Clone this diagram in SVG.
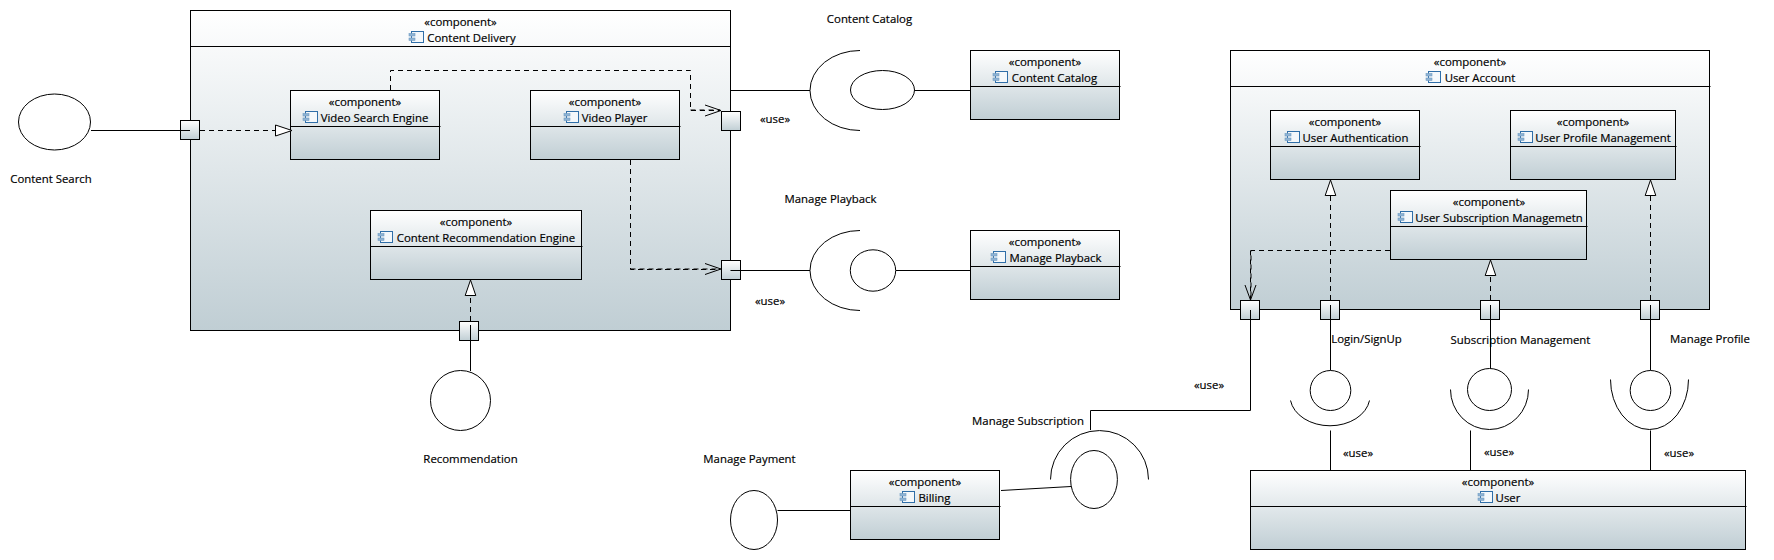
<svg xmlns="http://www.w3.org/2000/svg" width="1774" height="560" viewBox="0 0 1774 560">
<style>
text{font-family:"Open Sans","Noto Sans","Liberation Sans",sans-serif;font-size:11.4px;fill:#000;stroke:#000;stroke-width:.18;text-anchor:middle;dominant-baseline:central}
.box{fill:url(#g);stroke:#000;stroke-width:1}
.hl{stroke:#000;stroke-width:1;fill:none}
.iface{fill:#fff;stroke:#000;stroke-width:1}
.arc{fill:none;stroke:#000;stroke-width:1}
.solid{fill:none;stroke:#000;stroke-width:1}
.dash{fill:none;stroke:#000;stroke-width:1;stroke-dasharray:5 4}
.tri{fill:#fff;stroke:#000;stroke-width:1}
.open{fill:none;stroke:#000;stroke-width:1}
.port{fill:url(#g);stroke:#000;stroke-width:1}
</style>
<defs>
<linearGradient id="g" x1="0" y1="0" x2="0" y2="1"><stop offset="0" stop-color="#ffffff"/><stop offset="1" stop-color="#c0ced4"/></linearGradient>
<g id="ic"><rect x="2.5" y="0.5" width="12" height="11" fill="#f4f8fb" stroke="#2f6ea8" stroke-width="1"/><rect x="0" y="2.5" width="6" height="2.5" fill="#8fb3d3" stroke="#6f9cc4" stroke-width=".6"/><rect x="0" y="7" width="6" height="2.5" fill="#8fb3d3" stroke="#6f9cc4" stroke-width=".6"/></g>
</defs>
<rect width="1774" height="560" fill="#fff"/>

<g id="content-delivery">
<rect class="box" x="190.5" y="10.5" width="540" height="320"/><path class="hl" d="M190.5 46.5H730.5"/>
<text x="460.5" y="21">«component»</text><use href="#ic" x="409" y="31"/><text x="471.5" y="37">Content Delivery</text>
</g>
<g id="video-search-engine">
<rect class="box" x="290.5" y="90.5" width="149" height="69"/><path class="hl" d="M290.5 126.5H440.5"/>
<text x="365" y="101">«component»</text><use href="#ic" x="303" y="111"/><text x="374.5" y="117">Video Search Engine</text>
</g>
<g id="video-player">
<rect class="box" x="530.5" y="90.5" width="149" height="69"/><path class="hl" d="M530.5 126.5H680.5"/>
<text x="605" y="101">«component»</text><use href="#ic" x="564" y="111"/><text x="614.5" y="117">Video Player</text>
</g>
<g id="content-recommendation-engine">
<rect class="box" x="370.5" y="210.5" width="211" height="69"/><path class="hl" d="M370.5 246.5H582.5"/>
<text x="476" y="221">«component»</text><use href="#ic" x="378" y="231"/><text x="486" y="237">Content Recommendation Engine</text>
</g>
<g id="content-catalog">
<rect class="box" x="970.5" y="50.5" width="149" height="69"/><path class="hl" d="M970.5 86.5H1120.5"/>
<text x="1045" y="61">«component»</text><use href="#ic" x="993" y="71"/><text x="1054.5" y="77">Content Catalog</text>
</g>
<g id="manage-playback">
<rect class="box" x="970.5" y="230.5" width="149" height="69"/><path class="hl" d="M970.5 266.5H1120.5"/>
<text x="1045" y="241">«component»</text><use href="#ic" x="991" y="251"/><text x="1055.5" y="257">Manage Playback</text>
</g>
<g id="billing">
<rect class="box" x="850.5" y="470.5" width="149" height="69"/><path class="hl" d="M850.5 506.5H1000.5"/>
<text x="925" y="481">«component»</text><use href="#ic" x="900" y="491"/><text x="934.5" y="497">Billing</text>
</g>
<g id="user-account">
<rect class="box" x="1230.5" y="50.5" width="479" height="259"/><path class="hl" d="M1230.5 86.5H1710.5"/>
<text x="1470" y="61">«component»</text><use href="#ic" x="1426" y="71"/><text x="1480" y="77">User Account</text>
</g>
<g id="user-authentication">
<rect class="box" x="1270.5" y="110.5" width="149" height="69"/><path class="hl" d="M1270.5 146.5H1420.5"/>
<text x="1345" y="121">«component»</text><use href="#ic" x="1285" y="131"/><text x="1355.5" y="137">User Authentication</text>
</g>
<g id="user-profile-management">
<rect class="box" x="1510.5" y="110.5" width="165" height="69"/><path class="hl" d="M1510.5 146.5H1676.5"/>
<text x="1593" y="121">«component»</text><use href="#ic" x="1518" y="131"/><text x="1603" y="137">User Profile Management</text>
</g>
<g id="user-subscription-management">
<rect class="box" x="1390.5" y="190.5" width="196" height="69"/><path class="hl" d="M1390.5 226.5H1587.5"/>
<text x="1489" y="201">«component»</text><use href="#ic" x="1398" y="211"/><text x="1499" y="217">User Subscription Managemetn</text>
</g>
<g id="user">
<rect class="box" x="1250.5" y="470.5" width="495" height="79"/><path class="hl" d="M1250.5 506.5H1746.5"/>
<text x="1498" y="481">«component»</text><use href="#ic" x="1478" y="491"/><text x="1508" y="497">User</text>
</g>

<g id="ports">
<rect class="port" x="180.5" y="120.5" width="19" height="19"/>
<rect class="port" x="721.5" y="111.5" width="19" height="19"/>
<rect class="port" x="721.5" y="260.5" width="19" height="19"/>
<rect class="port" x="459.5" y="321.5" width="19" height="19"/>
<rect class="port" x="1240.5" y="300.5" width="19" height="19"/>
<rect class="port" x="1320.5" y="300.5" width="19" height="19"/>
<rect class="port" x="1480.5" y="300.5" width="19" height="19"/>
<rect class="port" x="1640.5" y="300.5" width="19" height="19"/>
</g>

<g id="connectors">
<path class="solid" d="M91 130.5H190"/>
<path class="dash" d="M200 130.5H276"/><path class="tri" d="M275.5 125L292 130.5L275.5 136Z"/>
<path class="dash" d="M390.5 90V70.5H690.5V110.5H720"/><path class="dash" d="M690.5 110H720"/><path class="open" d="M705 105L721 110.5L705 116"/>
<path class="solid" d="M730.5 90.5H810M914.5 90.5H970"/>
<path class="dash" d="M630.5 160V269.5H720"/><path class="dash" d="M630.5 269H720"/><path class="open" d="M705 263.5L721 269L705 274.5"/>
<path class="dash" d="M470.5 321V295"/><path class="tri" d="M465.2 295.5L470.5 280L475.8 295.5Z"/>
<path class="dash" d="M1390 250.5H1251V299"/><path class="dash" d="M1250.5 250.5V299"/><path class="open" d="M1245 285L1250.5 300L1256 285"/>
<path class="dash" d="M1330.5 300V195"/><path class="tri" d="M1325.2 195.5L1330.5 180L1335.8 195.5Z"/>
<path class="dash" d="M1490.5 300V275"/><path class="tri" d="M1485.2 275.5L1490.5 260L1495.8 275.5Z"/>
<path class="dash" d="M1650.5 300V195"/><path class="tri" d="M1645.2 195.5L1650.5 180L1655.8 195.5Z"/>
<path class="solid" d="M896 270.5H970M777.5 510.5H850M1001 490.5L1071 486.5M1090.5 430V410.5H1250.5V310M730.5 270.5H810M470.5 325V371M1330.5 305V370.5M1490.5 305V368.5M1650.5 305V370.5M1330.5 430.5V470M1470.5 430.5V470M1650.5 430.5V470"/>
</g>

<g id="interface-content-search"><ellipse class="iface" cx="54.5" cy="122" rx="36" ry="28"/><text x="51" y="178">Content Search</text></g>
<g id="interface-recommendation"><ellipse class="iface" cx="460.5" cy="400.5" rx="30" ry="30"/><text x="470.5" y="458">Recommendation</text></g>
<g id="interface-content-catalog"><path class="arc" d="M860 50.5A50 40 0 0 0 860 130.5"/><ellipse class="iface" cx="882.5" cy="90" rx="32" ry="19.5"/><text x="869.5" y="18">Content Catalog</text></g>
<g id="interface-manage-playback"><path class="arc" d="M860 230.5A50 40 0 0 0 860 310.5"/><ellipse class="iface" cx="873" cy="270.5" rx="22.7" ry="20.7"/><text x="830.5" y="198">Manage Playback</text></g>
<g id="interface-manage-payment"><ellipse class="iface" cx="754" cy="520" rx="23.5" ry="29.5"/><text x="749.5" y="458">Manage Payment</text></g>
<g id="interface-manage-subscription"><path class="arc" d="M1050.5 479.5A49 49 0 0 1 1148.5 479.5"/><ellipse class="iface" cx="1094" cy="479.5" rx="23.4" ry="29"/><text x="1028" y="420">Manage Subscription</text></g>
<g id="interface-login"><path class="arc" d="M1290.5 400.5A40 30 0 0 0 1369.5 400.5"/><ellipse class="iface" cx="1330.5" cy="390.5" rx="20.3" ry="20"/><text x="1366.5" y="338">Login/SignUp</text></g>
<g id="interface-subscription"><path class="arc" d="M1450.5 389.5A39 40 0 0 0 1528.5 389.5"/><ellipse class="iface" cx="1489.5" cy="389.5" rx="22" ry="21"/><text x="1520.5" y="339">Subscription Management</text></g>
<g id="interface-profile"><path class="arc" d="M1610.5 379.5A39 50 0 0 0 1688.5 379.5"/><ellipse class="iface" cx="1650.5" cy="390.5" rx="20.3" ry="20"/><text x="1710" y="338">Manage Profile</text></g>

<g id="use-labels">
<text x="775" y="118">«use»</text><text x="770" y="300.5">«use»</text><text x="1209" y="384">«use»</text><text x="1358" y="452.5">«use»</text><text x="1499" y="451.5">«use»</text><text x="1679" y="452.5">«use»</text>
</g>
</svg>
